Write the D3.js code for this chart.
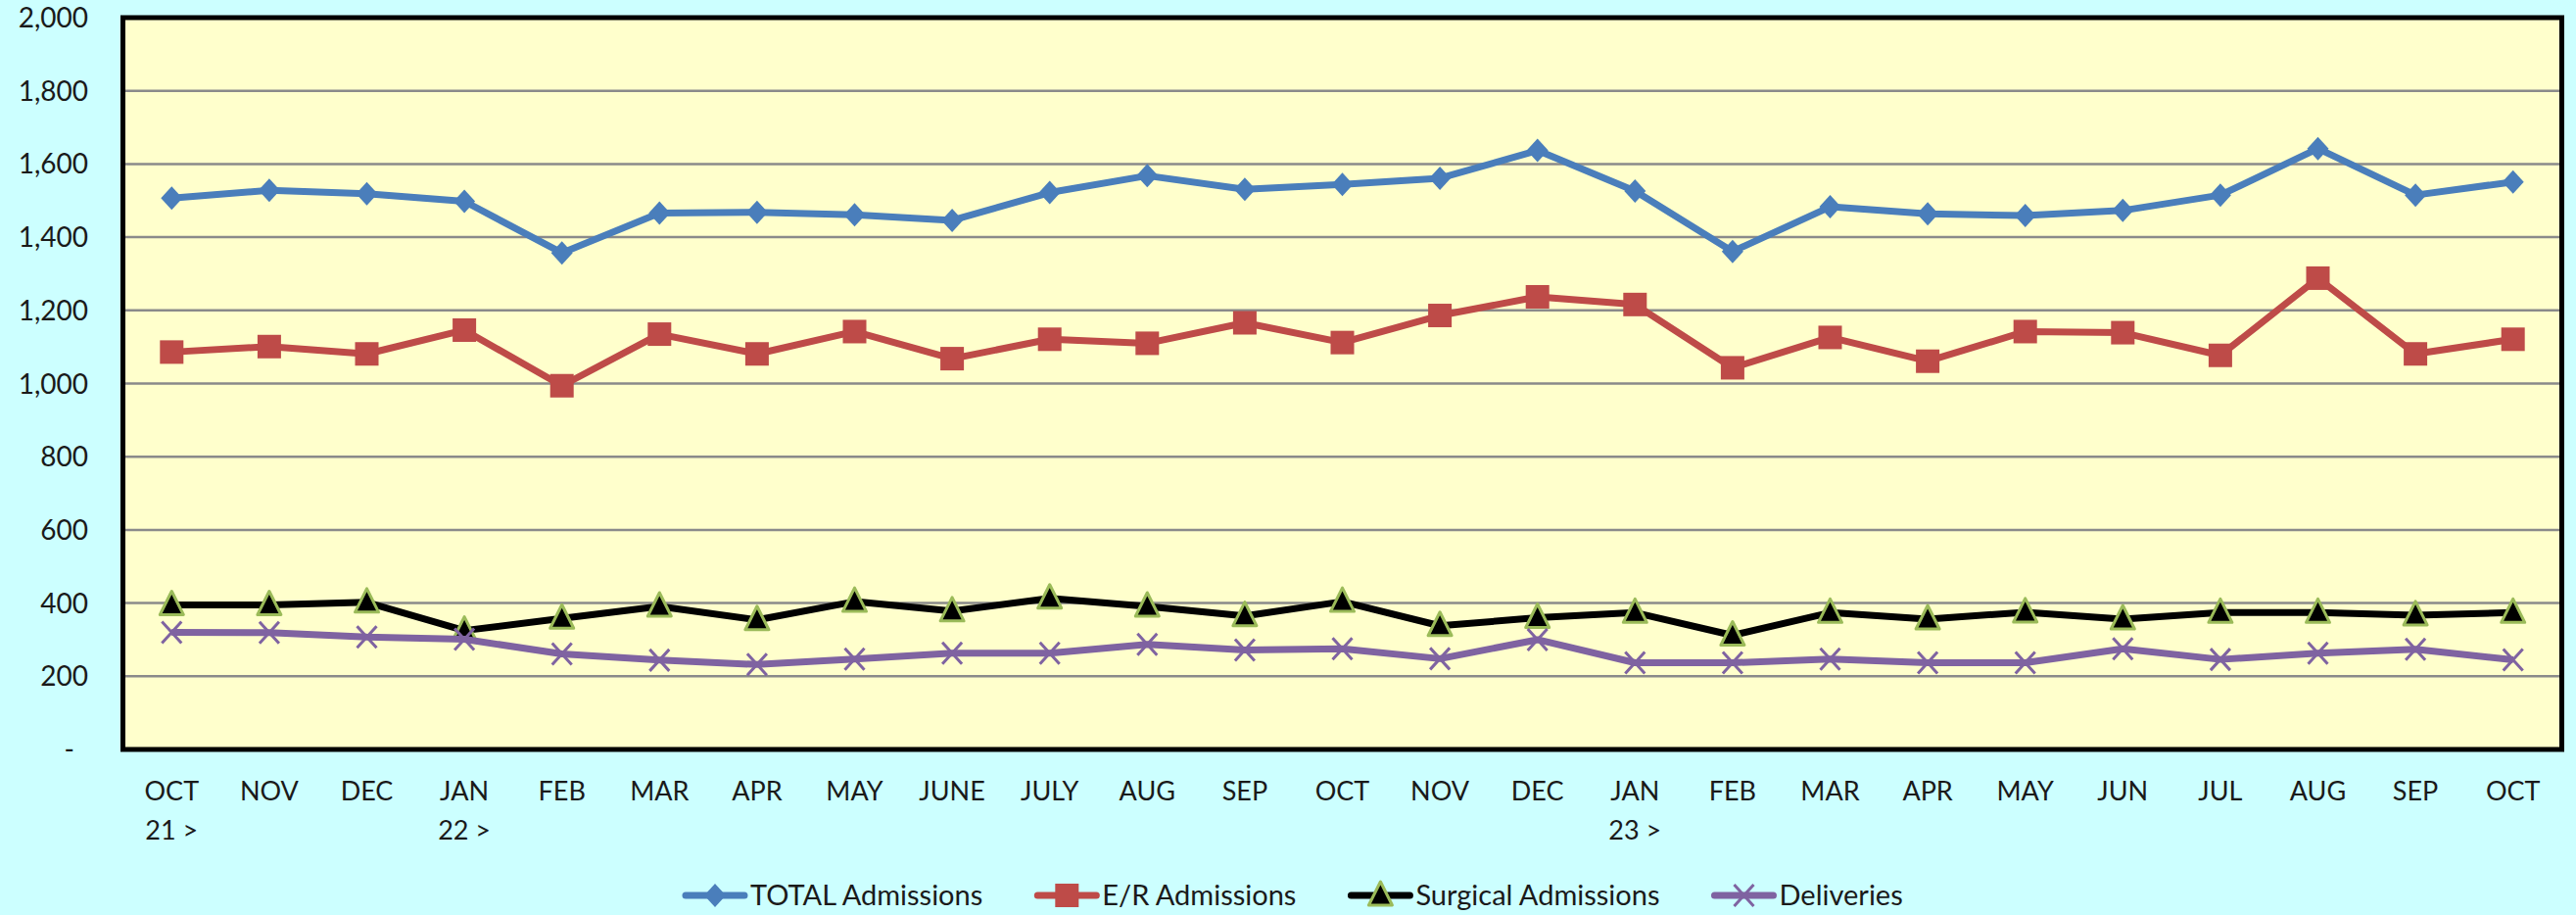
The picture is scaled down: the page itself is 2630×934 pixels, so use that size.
<!DOCTYPE html>
<html>
<head>
<meta charset="utf-8">
<script src="https://cdn.jsdelivr.net/npm/d3@7"></script>
<style>
  body { margin: 0; background: #ccffff; }
  svg text { font-family: Lato, "Open Sans", sans-serif; fill: #1a1a1a; }
</style>
</head>
<body>
<script>
// category labels (two lines, year marker under first month of each year)
var months = ["OCT","NOV","DEC","JAN","FEB","MAR","APR","MAY","JUNE","JULY","AUG","SEP",
              "OCT","NOV","DEC","JAN","FEB","MAR","APR","MAY","JUN","JUL","AUG","SEP","OCT"];
var years = ["21 >","","","22 >","","","","","","","","","","","","23 >","","","","","","","","",""];

// series values
var totalAdm = [1507,1528,1519,1498,1357,1466,1468,1461,1446,1522,1568,1531,1544,1561,1637,1526,1361,1483,1464,1459,1473,1515,1642,1515,1551];
var erAdm = [1086,1101,1081,1146,994,1135,1081,1142,1068,1121,1110,1166,1112,1186,1237,1216,1043,1126,1061,1142,1139,1077,1288,1081,1121];
var surgicalAdm = [395,395,402,325,358,391,354,404,378,413,391,365,404,338,360,374,312,374,356,375,356,374,374,367,374];
var deliveries = [320,319,307,301,261,244,232,247,263,263,287,272,275,248,300,237,237,247,237,237,275,246,263,274,245];

var yTicks = [0,200,400,600,800,1000,1200,1400,1600,1800,2000];

var w = 2630, h = 934;
var plotL = 125.5, plotR = 2615.5, plotT = 18, plotB = 765;

var svg = d3.select("body").append("svg")
  .attr("width", w).attr("height", h);

svg.append("rect").attr("width", w).attr("height", h).attr("fill", "#ccffff");

var x = d3.scaleBand().domain(d3.range(months.length)).range([plotL, plotR]);
var y = d3.scaleLinear().domain([0, 2000]).range([plotB, plotT]);
var cx = function(i) { return x(i) + x.bandwidth() / 2; };

// plot area
svg.append("rect")
  .attr("x", plotL).attr("y", plotT)
  .attr("width", plotR - plotL).attr("height", plotB - plotT)
  .attr("fill", "#ffffcc");

// gridlines
svg.append("g").selectAll("line").data(yTicks.filter(function(t){ return t > 0 && t < 2000; }))
  .enter().append("line")
  .attr("x1", plotL).attr("x2", plotR)
  .attr("y1", function(d){ return y(d); }).attr("y2", function(d){ return y(d); })
  .attr("stroke", "#8a8a8a").attr("stroke-width", 2.5);

// border
svg.append("rect")
  .attr("x", plotL).attr("y", plotT)
  .attr("width", plotR - plotL).attr("height", plotB - plotT)
  .attr("fill", "none").attr("stroke", "#000").attr("stroke-width", 5);

// y axis labels
var fmt = d3.format(",");
svg.append("g").selectAll("text").data(yTicks).enter().append("text")
  .attr("x", function(d){ return d === 0 ? 76 : 90; })
  .attr("y", function(d){ return y(d); })
  .attr("dy", "0.36em")
  .attr("text-anchor", "end")
  .style("font-size", "28px")
  .text(function(d){ return d === 0 ? "-" : fmt(d); });

// x axis labels
var xl = svg.append("g").selectAll("text").data(months).enter().append("text")
  .attr("x", function(d, i){ return cx(i); })
  .attr("y", 817)
  .attr("text-anchor", "middle")
  .style("font-size", "27px");
xl.append("tspan").attr("x", function(d, i){ return cx(i); }).text(function(d){ return d; });
xl.append("tspan").attr("x", function(d, i){ return cx(i); }).attr("dy", 40)
  .text(function(d, i){ return years[i]; });

var series = [
  { name: "TOTAL Admissions", values: totalAdm, color: "#4a7ebb", marker: "diamond" },
  { name: "E/R Admissions", values: erAdm, color: "#be4b48", marker: "square" },
  { name: "Surgical Admissions", values: surgicalAdm, color: "#000000", marker: "triangle" },
  { name: "Deliveries", values: deliveries, color: "#7f63a1", marker: "cross" }
];

function drawMarker(g, s, px, py) {
  if (s.marker === "diamond") {
    g.append("path").attr("d", "M" + px + "," + (py - 12) + "L" + (px + 11) + "," + py +
      "L" + px + "," + (py + 12) + "L" + (px - 11) + "," + py + "Z")
      .attr("fill", s.color);
  } else if (s.marker === "square") {
    g.append("rect").attr("x", px - 12).attr("y", py - 12).attr("width", 24).attr("height", 24)
      .attr("fill", s.color);
  } else if (s.marker === "triangle") {
    g.append("path").attr("d", "M" + px + "," + (py - 14) + "L" + (px + 12) + "," + (py + 10) +
      "L" + (px - 12) + "," + (py + 10) + "Z")
      .attr("fill", "#000").attr("stroke", "#9bbb59").attr("stroke-width", 3)
      .attr("stroke-linejoin", "round");
  } else {
    g.append("path").attr("d", "M" + (px - 10) + "," + (py - 11) + "L" + (px + 10) + "," + (py + 11) +
      "M" + (px + 10) + "," + (py - 11) + "L" + (px - 10) + "," + (py + 11))
      .attr("stroke", s.color).attr("stroke-width", 3).attr("fill", "none");
  }
}

var line = d3.line()
  .x(function(d, i){ return cx(i); })
  .y(function(d){ return y(d); });

series.forEach(function(s) {
  var g = svg.append("g");
  g.append("path").datum(s.values)
    .attr("d", line)
    .attr("fill", "none")
    .attr("stroke", s.color)
    .attr("stroke-width", 7)
    .attr("stroke-linejoin", "round");
  s.values.forEach(function(v, i) { drawMarker(g, s, cx(i), y(v)); });
});

// legend
var lx = 700, ly = 914;
series.forEach(function(s) {
  var g = svg.append("g");
  g.append("line").attr("x1", lx).attr("x2", lx + 60).attr("y1", ly).attr("y2", ly)
    .attr("stroke", s.color).attr("stroke-width", 7).attr("stroke-linecap", "round");
  drawMarker(g, s, lx + 30, ly);
  var t = g.append("text").attr("x", lx + 66).attr("y", ly).attr("dy", "0.36em")
    .style("font-size", "29px").text(s.name);
  lx = lx + 66 + t.node().getComputedTextLength() + 56;
});
</script>
</body>
</html>
